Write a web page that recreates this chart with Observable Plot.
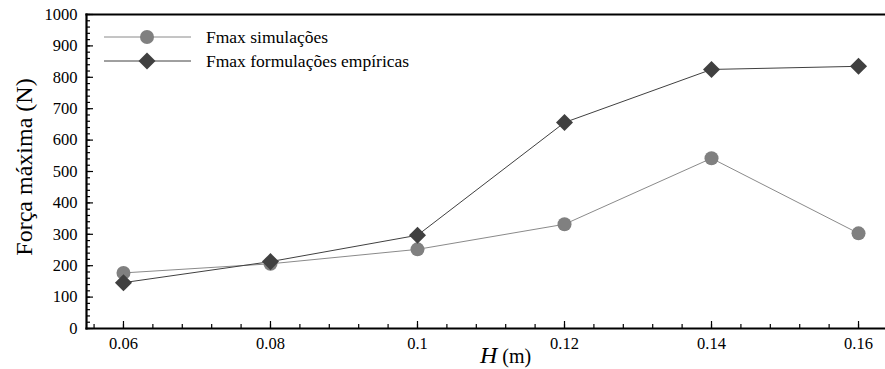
<!DOCTYPE html>
<html>
<head>
<meta charset="utf-8">
<script src="https://cdn.jsdelivr.net/npm/d3@7"></script>
<script src="https://cdn.jsdelivr.net/npm/@observablehq/plot@0.6"></script>
<style>
  html, body { margin: 0; padding: 0; background: #fff; }
  #wrap { position: relative; width: 885px; height: 369px; }
</style>
</head>
<body>
<div id="wrap"></div>
<script>
// ---- data ----
const H = [0.06, 0.08, 0.10, 0.12, 0.14, 0.16];
const fSim = [177, 206, 252, 332, 542, 303];
const fEmp = [146, 213, 297, 656, 825, 835];
const seriesNames = ["Fmax simulações", "Fmax formulações empíricas"];
const xTicks = [0.06, 0.08, 0.10, 0.12, 0.14, 0.16];
const xMinor = d3.range(0, 28).map(i => +(0.056 + i * 0.004).toFixed(3));
const yTicks = [0, 100, 200, 300, 400, 500, 600, 700, 800, 900, 1000];
const yMinor = d3.range(0, 51).map(i => i * 20);

const simData = H.map((h, i) => ({h, f: fSim[i]}));
const empData = H.map((h, i) => ({h, f: fEmp[i]}));

const simColor = "#808080", simLine = "#8a8a8a";
const empColor = "#404040", empLine = "#404040";

const xFmt = d => String(+d.toFixed(2));
const yFmt = d => String(d);
const serif = "Liberation Serif";

const plot = Plot.plot({
  width: 885,
  height: 369,
  marginLeft: 86,
  marginRight: 0,
  marginTop: 14,
  marginBottom: 41,
  x: {domain: [0.05497, 0.16367]},
  y: {domain: [0, 1000]},
  marks: [
    // inward ticks
    Plot.axisX({ticks: xMinor, tickSize: -4, tickFormat: null, text: null, label: null, strokeWidth: 1.2}),
    Plot.axisX({ticks: xTicks, tickSize: -7, tickFormat: null, text: null, label: null, strokeWidth: 1.2}),
    Plot.axisY({ticks: yMinor, tickSize: -4, tickFormat: null, text: null, label: null, strokeWidth: 1.2}),
    Plot.axisY({ticks: yTicks, tickSize: -7, tickFormat: null, text: null, label: null, strokeWidth: 1.2}),
    // frame lines
    Plot.frame({anchor: "bottom", strokeWidth: 2.2, stroke: "#000"}),
    Plot.frame({anchor: "top", strokeWidth: 2.2, stroke: "#000"}),
    Plot.frame({anchor: "left", strokeWidth: 2.2, stroke: "#000"}),
    // series
    Plot.line(simData, {x: "h", y: "f", stroke: simLine, strokeWidth: 1}),
    Plot.line(empData, {x: "h", y: "f", stroke: empLine, strokeWidth: 1}),
    Plot.dot(simData, {x: "h", y: "f", r: 7, fill: simColor, stroke: "none"}),
    Plot.dot(empData, {x: "h", y: "f", r: 6.8, symbol: "square", rotate: 45, fill: empColor, stroke: "none"}),
    // tick labels
    Plot.axisX({ticks: xTicks, tickSize: 0, tickPadding: 9, tickFormat: xFmt, fontSize: 16.5, fontFamily: serif, fill: "#000", label: null}),
    Plot.axisY({ticks: yTicks, tickSize: 0, tickPadding: 9, tickFormat: yFmt, fontSize: 16.5, fontFamily: serif, fill: "#000", label: null})
  ]
});

document.getElementById("wrap").appendChild(plot);

const svg = d3.select(plot);

svg.append("text")
  .attr("transform", "translate(32,167) rotate(-90)")
  .attr("text-anchor", "middle")
  .attr("font-family", serif)
  .attr("font-size", 24)
  .attr("fill", "#000")
  .text("Força máxima (N)");

const xl = svg.append("text")
  .attr("x", 480).attr("y", 363)
  .attr("text-anchor", "start")
  .attr("font-family", serif)
  .attr("fill", "#000");
xl.append("tspan").attr("font-style", "italic").attr("font-size", 24).text("H");
xl.append("tspan").attr("font-size", 20).attr("dx", 5).text("(m)");

const leg = svg.append("g").attr("text-anchor", "start");
seriesNames.forEach((name, i) => {
  const y = 37 + i * 24;
  const g = leg.append("g");
  g.append("line").attr("x1", 104).attr("x2", 191).attr("y1", y).attr("y2", y)
    .attr("stroke", i === 0 ? simLine : empLine).attr("stroke-width", 1);
  if (i === 0) {
    g.append("circle").attr("cx", 147).attr("cy", y).attr("r", 7).attr("fill", simColor);
  } else {
    g.append("path").attr("d", d3.symbol(d3.symbolSquare, Math.PI * 6.8 * 6.8)())
      .attr("transform", `translate(147,${y}) rotate(45)`).attr("fill", empColor);
  }
  g.append("text").attr("x", 206).attr("y", y + 6)
    .attr("text-anchor", "start")
    .attr("font-family", serif)
    .attr("font-size", 17.5).attr("fill", "#000")
    .text(name);
});
</script>
</body>
</html>
